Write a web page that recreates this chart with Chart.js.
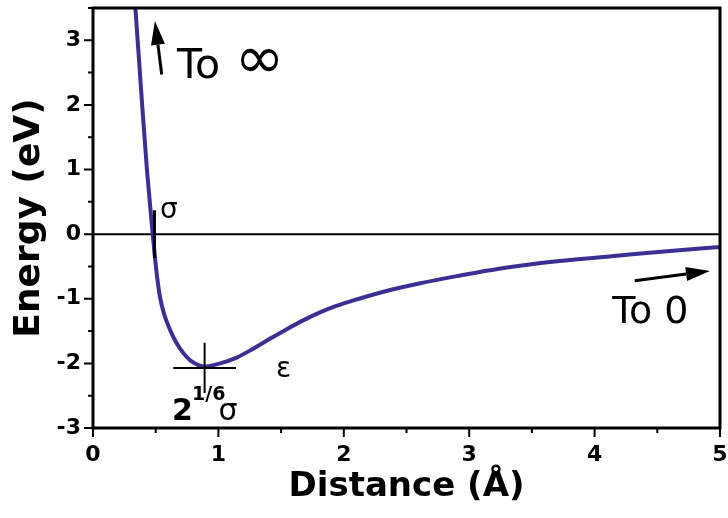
<!DOCTYPE html>
<html>
<head>
<meta charset="utf-8">
<script src="https://cdn.jsdelivr.net/npm/chart.js@4.4.1/dist/chart.umd.min.js"></script>
<style>
    html, body { margin: 0; padding: 0; background: #fff; }
    #wrap { width: 728px; height: 518px; }
</style>
</head>
<body>
<div id="wrap"><canvas id="ljChart"></canvas></div>
<script>
// Potential curve
const distance = [0.330, 0.338, 0.356, 0.392, 0.430, 0.476, 0.494, 0.513, 0.534, 0.566, 0.614, 0.667, 0.720, 0.787, 0.890, 1.013, 1.146, 1.280, 1.410, 1.545, 1.680, 1.810, 1.940, 2.070, 2.340, 2.610, 2.900, 3.250, 3.700, 4.200, 4.600, 5.000];
const energy   = [3.75, 3.50, 3.00, 2.00, 1.00, 0.00, -0.36, -0.69, -0.97, -1.23, -1.48, -1.69, -1.84, -1.97, -2.05, -2.00, -1.91, -1.77, -1.62, -1.47, -1.33, -1.21, -1.11, -1.03, -0.88, -0.76, -0.65, -0.53, -0.42, -0.33, -0.26, -0.20];

// Tick labels
const xTicks = [0, 1, 2, 3, 4, 5];
const yTicks = [-3, -2, -1, 0, 1, 2, 3];

// Reference lines (data units)
const zeroLineX = [0, 5];
const zeroLineY = [0, 0];
const sigmaMarkX = [0.49, 0.49];
const sigmaMarkY = [0.37, -0.37];
const wellHorizX = [0.64, 1.14];
const wellHorizY = [-2.07, -2.07];
const wellVertX = [0.89, 0.89];
const wellVertY = [-1.68, -2.46];

// Arrows: [tailX, tailY, tipX, tipY]
const arrowInfinity = [0.548, 2.47, 0.494, 3.30];
const arrowZero = [4.32, -0.72, 4.92, -0.57];

const toPoints = (xs, ys) => xs.map((x, i) => ({ x: x, y: ys[i] }));

const FONT = 'DejaVu Sans';

// Frame, tick marks, arrows and annotation labels
const decorPlugin = {
    id: 'decor',
    afterDatasetsDraw(chart) {
        const { ctx, chartArea: a, scales: { x, y } } = chart;
        ctx.save();

        // frame
        ctx.strokeStyle = '#000';
        ctx.lineWidth = 3;
        ctx.strokeRect(a.left, a.top, a.right - a.left, a.bottom - a.top);

        // ticks (major + minor), outward
        ctx.lineWidth = 2;
        ctx.beginPath();
        for (let v = 0; v <= 5; v += 0.5) {
            const px = x.getPixelForValue(v);
            const len = Number.isInteger(v) ? 9 : 5;
            ctx.moveTo(px, a.bottom);
            ctx.lineTo(px, a.bottom + len);
        }
        for (let v = -3; v <= 3.5; v += 0.5) {
            const py = y.getPixelForValue(v);
            const len = Number.isInteger(v) ? 9 : 5;
            ctx.moveTo(a.left, py);
            ctx.lineTo(a.left - len, py);
        }
        ctx.stroke();

        // arrows
        const drawArrow = (arr) => {
            const x0 = x.getPixelForValue(arr[0]), y0 = y.getPixelForValue(arr[1]);
            const x1 = x.getPixelForValue(arr[2]), y1 = y.getPixelForValue(arr[3]);
            const ang = Math.atan2(y1 - y0, x1 - x0);
            const headLen = 24, headW = 7;
            const bx = x1 - headLen * Math.cos(ang), by = y1 - headLen * Math.sin(ang);
            ctx.lineWidth = 3;
            ctx.beginPath();
            ctx.moveTo(x0, y0);
            ctx.lineTo(bx, by);
            ctx.stroke();
            ctx.beginPath();
            ctx.moveTo(x1, y1);
            ctx.lineTo(bx + headW * Math.sin(ang), by - headW * Math.cos(ang));
            ctx.lineTo(bx - headW * Math.sin(ang), by + headW * Math.cos(ang));
            ctx.closePath();
            ctx.fill();
        };
        ctx.fillStyle = '#000';
        drawArrow(arrowInfinity);
        drawArrow(arrowZero);

        // labels
        const label = (text, vx, vy, font) => {
            ctx.font = font;
            ctx.textAlign = 'left';
            ctx.textBaseline = 'alphabetic';
            ctx.fillText(text, x.getPixelForValue(vx), y.getPixelForValue(vy));
        };
        label('To', 0.67, 2.41, `41px "${FONT}"`);
        label('\u221E', 1.13, 2.41, `60px "${FONT}"`);
        label('To 0', 4.14, -1.38, `38px "${FONT}"`);
        label('\u03C3', 0.535, 0.25, `28px "${FONT}"`);
        label('\u03B5', 1.46, -2.21, `28px "${FONT}"`);
        label('2', 0.63, -2.88, `bold 30px "${FONT}"`);
        label('1/6', 0.79, -2.57, `bold 19px "${FONT}"`);
        label('\u03C3', 1.0, -2.88, `30px "${FONT}"`);

        ctx.restore();
    }
};

const ctx = document.getElementById('ljChart');

new Chart(ctx, {
    type: 'scatter',
    data: {
        datasets: [
            {
                label: 'zero',
                data: toPoints(zeroLineX, zeroLineY),
                showLine: true,
                borderColor: '#000',
                borderWidth: 2,
                pointRadius: 0,
                order: 5
            },
            {
                label: 'Energy',
                data: toPoints(distance, energy),
                showLine: true,
                borderColor: '#3b2f94',
                borderWidth: 4,
                pointRadius: 0,
                cubicInterpolationMode: 'monotone',
                order: 4
            },
            {
                label: 'sigma',
                data: toPoints(sigmaMarkX, sigmaMarkY),
                showLine: true,
                borderColor: '#000',
                borderWidth: 3,
                pointRadius: 0,
                order: 1
            },
            {
                label: 'well-h',
                data: toPoints(wellHorizX, wellHorizY),
                showLine: true,
                borderColor: '#000',
                borderWidth: 2,
                pointRadius: 0,
                order: 2
            },
            {
                label: 'well-v',
                data: toPoints(wellVertX, wellVertY),
                showLine: true,
                borderColor: '#000',
                borderWidth: 2,
                pointRadius: 0,
                order: 3
            }
        ]
    },
    options: {
        responsive: true,
        maintainAspectRatio: false,
        animation: false,
        layout: { padding: { top: 8, right: 8, left: 0, bottom: 0 } },
        plugins: {
            legend: { display: false },
            tooltip: { enabled: false }
        },
        scales: {
            x: {
                type: 'linear',
                min: 0,
                max: 5,
                afterBuildTicks: (scale) => { scale.ticks = xTicks.map(v => ({ value: v })); },
                afterFit: (scale) => {
                    scale.height = 90;
                    scale.paddingLeft = 0;
                    scale.paddingRight = 0;
                },
                grid: { display: false, drawTicks: false },
                border: { display: false },
                ticks: {
                    color: '#000',
                    padding: 14,
                    maxRotation: 0,
                    font: { family: FONT, size: 22, weight: 'bold' }
                },
                title: {
                    display: true,
                    text: 'Distance (\u00C5)',
                    color: '#000',
                    font: { family: FONT, size: 34, weight: 'bold' },
                    padding: { top: 0, bottom: 10 }
                }
            },
            y: {
                type: 'linear',
                min: -3,
                max: 3.5,
                afterBuildTicks: (scale) => { scale.ticks = yTicks.map(v => ({ value: v })); },
                afterFit: (scale) => {
                    scale.width = 93;
                    scale.paddingTop = 0;
                    scale.paddingBottom = 0;
                },
                grid: { display: false, drawTicks: false },
                border: { display: false },
                ticks: {
                    color: '#000',
                    padding: 12,
                    font: { family: FONT, size: 22, weight: 'bold' }
                },
                title: {
                    display: true,
                    text: 'Energy (eV)',
                    color: '#000',
                    font: { family: FONT, size: 36, weight: 'bold' },
                    padding: { top: 8, bottom: 0 }
                }
            }
        }
    },
    plugins: [decorPlugin]
});
</script>
</body>
</html>
